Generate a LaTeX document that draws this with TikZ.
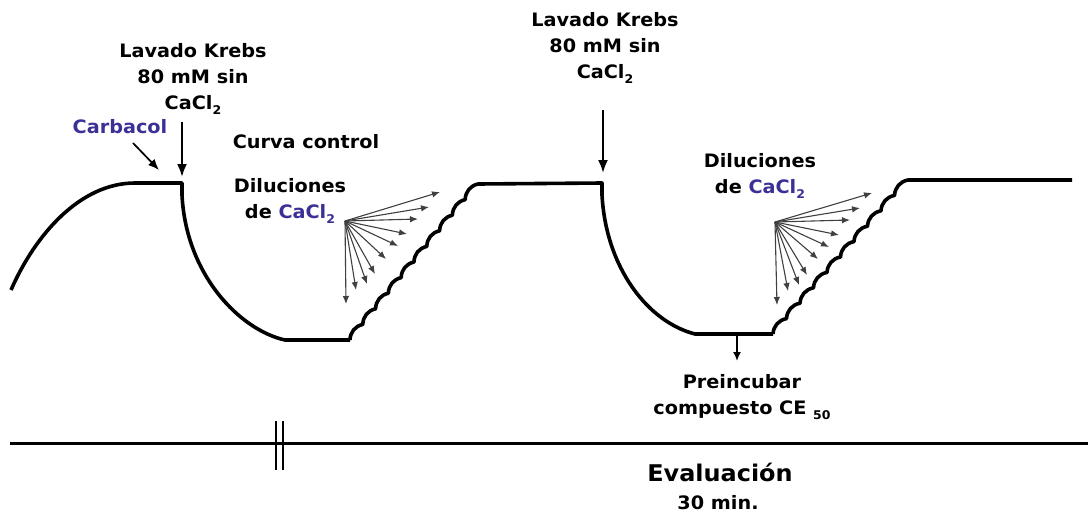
\documentclass[tikz,border=0pt]{standalone}
\usepackage{fontspec}
\setmainfont{DejaVu Sans}[FakeStretch=1.04]
\usetikzlibrary{arrows.meta}
\definecolor{cblue}{RGB}{58,48,150}
\newcommand{\lowtwo}{\raisebox{-0.32em}{\fontsize{12}{12}\selectfont 2}}
\begin{document}
\begin{tikzpicture}[x=1pt,y=-1pt,
  curve/.style={line width=3.6pt, line join=round},
  fanarrow/.style={line width=1.1pt, draw=black!75, -{Latex[length=8pt,width=6.5pt]}},
  bigarrow/.style={line width=2.2pt, -{Latex[length=13pt,width=10pt]}},
  lbl/.style={align=center, font=\bfseries\fontsize{18.5}{26}\selectfont, inner sep=0pt},
  biglbl/.style={align=center, font=\bfseries\fontsize{23}{28}\selectfont, inner sep=0pt}]
\useasboundingbox (0,0) rectangle (1088,520);

% texts
\node[lbl] (krebsA) at (193,79) {Lavado Krebs\\80 mM sin\\CaCl\lowtwo};
\node[lbl] (krebsB) at (605,48) {Lavado Krebs\\80 mM sin\\CaCl\lowtwo};
\node[lbl, text=cblue] (carb) at (120,127) {Carbacol};
\node[lbl] (curva) at (306,142) {Curva control};
\node[lbl] (dilA) at (290,201) {Diluciones\\de \textcolor{cblue}{CaCl\lowtwo}};
\node[lbl] (dilB) at (760,176) {Diluciones\\de \textcolor{cblue}{CaCl\lowtwo}};
\node[lbl] (prein) at (742,397) {Preincubar\\compuesto CE \raisebox{-0.3em}{\fontsize{12}{12}\selectfont 50}};
\node[biglbl] (eval) at (720,472) {Evaluación};
\node[lbl] (min) at (718,503) {30 min.};

% coordinates for arrows
\coordinate (cS) at (133,143); \coordinate (cE) at (159,170);
\coordinate (kAs) at (182,122); \coordinate (kAe) at (182,177);
\coordinate (kBs) at (603,110); \coordinate (kBe) at (603,173);
\coordinate (pS) at (737,336); \coordinate (pE) at (737,361);
\draw[line width=1.7pt, -{Latex[length=11pt,width=9pt]}] (cS) -- (cE);
\draw[bigarrow] (kAs) -- (kAe);
\draw[bigarrow] (kBs) -- (kBe);
\draw[line width=1.6pt, -{Latex[length=9pt,width=8pt]}] (pS) -- (pE);

% trace 1
\draw[curve] (11,290) .. controls (35,235) and (80,183) .. (135,183) -- (182,183)
  -- (182,195) .. controls (186,275) and (240,330) .. (285,340) -- (350,340);
\draw[curve] (350,340)
  \foreach \i in {1,...,10} { to[bend left=38] ({350+12.8*\i},{340-15.6*\i}) }
  -- (602,183) -- (602,195) .. controls (606,268) and (648,322) .. (695,334) -- (773,334);
\draw[curve] (773,334)
  \foreach \i in {1,...,10} { to[bend left=38] ({773+13.5*\i},{334-15.4*\i}) }
  -- (1072,180);

% fans
\coordinate (fA) at (345,221);
\foreach \x/\y [count=\k] in {440/192,429/207,418/219,407/234,398/246,386/259,375/274,367/284,356/290,346/304}
  { \coordinate (fa\k) at (\x,\y); \draw[fanarrow] (fA) -- (fa\k); }
\coordinate (fB) at (775,222);
\foreach \x/\y [count=\k] in {872/193,860/208,850/220,839/235,829/247,818/259,807/275,799/285,788/291,777/305}
  { \coordinate (fb\k) at (\x,\y); \draw[fanarrow] (fB) -- (fb\k); }

% timeline
\coordinate (tl) at (10,443); \coordinate (tr) at (1088,443);
\draw[line width=3pt] (tl) -- (tr);
\draw[line width=2.2pt] (276,421) -- (276,470) (283,421) -- (283,470);
\end{tikzpicture}
\end{document}
